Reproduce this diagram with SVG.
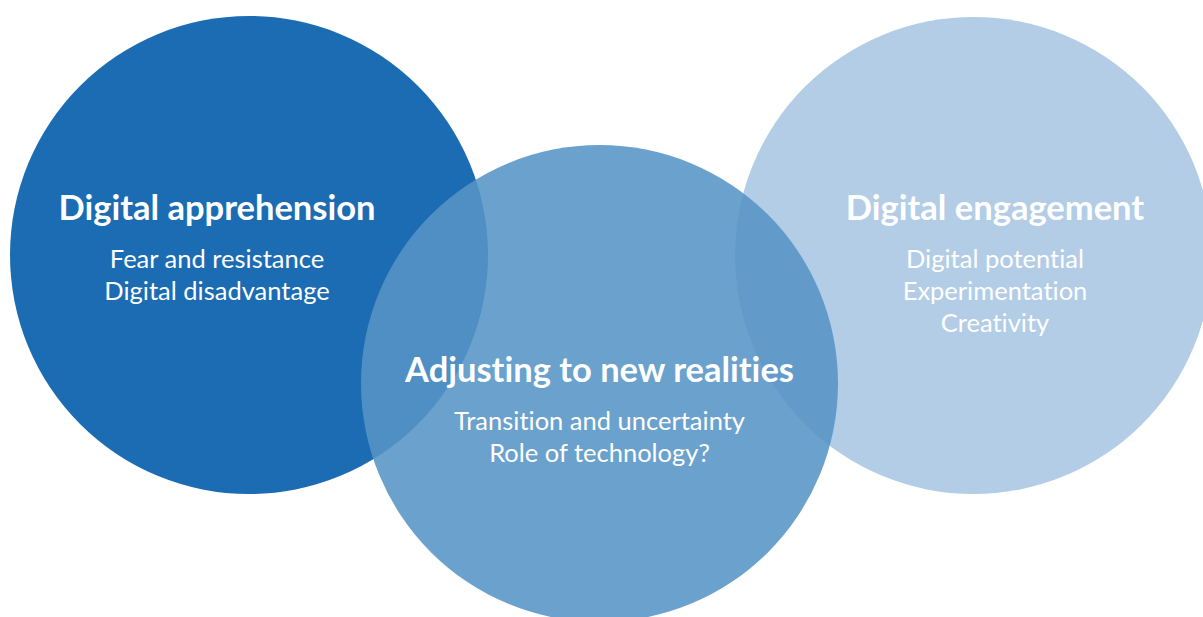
<svg xmlns="http://www.w3.org/2000/svg" width="1203" height="617" viewBox="0 0 1203 617">
  <style>
    text { font-family: Lato, "Open Sans", "Liberation Sans", sans-serif; fill: #ffffff; text-anchor: middle; font-variant-ligatures: none; font-feature-settings: "liga" 0, "dlig" 0; }
    .title { font-weight: 700; font-size: 34.5px; }
    .item { font-weight: 400; font-size: 25.5px; }
  </style>
  <rect width="1203" height="617" fill="#ffffff"/>

  <!-- Left set -->
  <g id="apprehension">
    <circle cx="249" cy="255" r="239" fill="#1b6cb2"/>
    <text class="title" x="217" y="220">Digital apprehension</text>
    <text class="item" x="217" y="268">Fear and resistance</text>
    <text class="item" x="217" y="300">Digital disadvantage</text>
  </g>

  <!-- Right set -->
  <g id="engagement">
    <circle cx="973.5" cy="255.5" r="238.5" fill="#b3cde6"/>
    <text class="title" x="995" y="220">Digital engagement</text>
    <text class="item" x="995" y="268">Digital potential</text>
    <text class="item" x="995" y="300">Experimentation</text>
    <text class="item" x="995" y="332">Creativity</text>
  </g>

  <!-- Middle set, translucent so the overlaps show -->
  <g id="adjusting">
    <circle cx="599.5" cy="383.5" r="238.5" fill="#5694c6" fill-opacity="0.88"/>
    <text class="title" x="599.5" y="382">Adjusting to new realities</text>
    <text class="item" x="599.5" y="430">Transition and uncertainty</text>
    <text class="item" x="599.5" y="462">Role of technology?</text>
  </g>

  <g id="connectors"/>
</svg>
